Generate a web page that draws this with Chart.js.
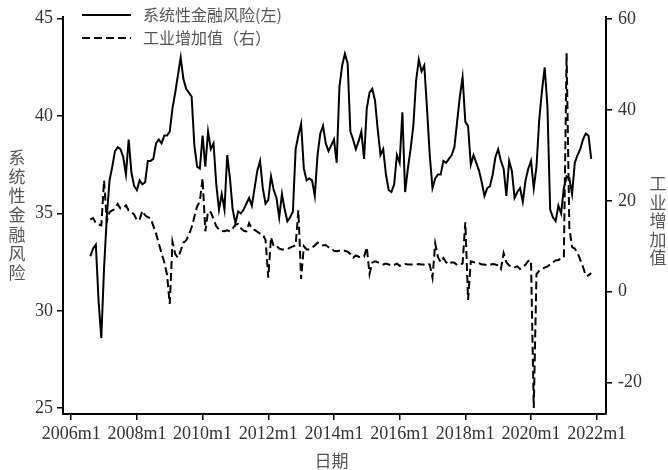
<!DOCTYPE html>
<html>
<head>
<meta charset="utf-8">
<script src="https://cdn.jsdelivr.net/npm/chart.js@4.4.1/dist/chart.umd.min.js"></script>
<style>
  html, body { margin: 0; padding: 0; background: #fff; }
  #wrap { width: 668px; height: 470px; }
</style>
</head>
<body>
<div id="wrap"><canvas id="riskChart" width="668" height="470"></canvas></div>
<script>
// monthly data, first value is 2006m8 (month index 0 = 2006m1)
const startMonth = 7;

// 系统性金融风险 (left axis)
const risk = [
  32.8, 33.2, 33.4, 30.5, 28.6,                                        // 2006
  32.2, 34.8, 36.7, 37.4, 38.2, 38.4, 38.3, 37.9, 37.0, 38.8, 37.1, 36.4, // 2007
  36.2, 36.7, 36.5, 36.6, 37.7, 37.7, 37.8, 38.6, 38.8, 38.6, 39.0, 39.0, // 2008
  39.2, 40.4, 41.2, 42.1, 43.0, 41.9, 41.4, 41.2, 41.0, 38.5, 37.4, 37.3, // 2009
  39.0, 37.4, 39.2, 38.3, 38.6, 36.5, 35.2, 36.0, 35.2, 38.0, 36.8, 35.2, // 2010
  34.5, 35.1, 35.0, 35.2, 35.5, 35.8, 35.4, 36.3, 37.2, 37.7, 36.3, 35.5, // 2011
  35.7, 36.9, 36.2, 35.8, 34.8, 36.0, 35.2, 34.6, 34.8, 35.1, 38.3, 39.0, // 2012
  39.6, 37.3, 36.7, 36.8, 36.7, 35.9, 38.0, 39.1, 39.5, 38.6, 38.2, 38.5, // 2013
  38.8, 37.6, 41.5, 42.6, 43.2, 42.7, 39.2, 38.8, 38.3, 38.7, 39.2, 37.8, // 2014
  40.4, 41.2, 41.4, 40.8, 39.3, 38.0, 38.3, 37.0, 36.2, 36.1, 36.5, 38.0, // 2015
  37.6, 40.2, 36.1, 37.3, 38.3, 39.5, 41.8, 42.9, 42.3, 42.6, 40.4, 38.0, // 2016
  36.3, 36.8, 37.0, 37.0, 37.7, 37.6, 37.8, 38.0, 38.4, 39.7, 41.0, 42.0, // 2017
  39.7, 39.5, 37.5, 38.0, 37.6, 37.2, 36.6, 35.9, 36.3, 36.4, 37.0, 37.9, // 2018
  38.3, 37.7, 37.3, 35.9, 37.7, 37.2, 35.8, 36.1, 36.3, 35.6, 36.7, 37.3, // 2019
  37.7, 36.3, 37.4, 39.8, 41.3, 42.5, 40.5, 35.2, 34.8, 34.6, 35.4, 35.0, // 2020
  36.3, 36.9, 36.8, 36.0, 37.6, 38.0, 38.3, 38.8, 39.1, 39.0, 37.8        // 2021
];

// 工业增加值 (right axis)
const industry = [
  15.9, 16.2, 15.1, 14.8, 14.6,                                        // 2006
  24.5, 15.5, 17.5, 17.9, 18.2, 19.3, 18.3, 18.5, 19.0, 17.9, 17.6, 17.0, // 2007
  15.7, 15.9, 17.8, 16.8, 16.4, 16.2, 14.5, 12.8, 10.6, 8.5, 6.5, 3.8,    // 2008
  -2.7, 11.0, 8.3, 7.5, 9.0, 10.8, 11.3, 12.5, 14.2, 16.5, 18.8, 19.9,    // 2009
  25.0, 13.3, 17.7, 17.5, 16.0, 14.4, 13.7, 13.4, 13.3, 13.5, 13.3, 13.9, // 2010
  14.8, 14.9, 14.0, 13.4, 13.3, 15.1, 13.9, 13.6, 13.2, 12.8, 12.6, 11.4, // 2011
  3.1, 12.0, 10.0, 10.1, 9.5, 9.3, 9.3, 9.4, 9.7, 10.0, 10.2, 17.9,       // 2012
  2.8, 10.0, 9.3, 9.3, 9.7, 10.2, 10.8, 10.6, 10.2, 10.3, 9.8, 9.6,       // 2013
  9.0, 8.9, 9.0, 9.0, 9.0, 8.8, 8.3, 7.5, 8.0, 7.7, 7.6, 7.7,             // 2014
  9.8, 3.9, 6.4, 6.7, 6.5, 6.2, 6.0, 6.2, 6.0, 5.8, 5.9, 6.2,             // 2015
  5.7, 5.9, 6.1, 6.0, 6.0, 6.0, 6.0, 6.1, 6.0, 6.0, 6.2, 6.0,             // 2016
  3.1, 10.6, 7.6, 6.5, 7.4, 6.5, 6.0, 6.5, 6.4, 5.9, 6.0, 6.2,            // 2017
  15.3, -1.8, 6.7, 6.5, 6.5, 6.3, 6.0, 6.0, 5.8, 5.9, 6.1, 6.0,           // 2018
  5.8, 5.0, 8.5, 6.5, 5.8, 5.5, 5.4, 5.6, 5.0, 5.4, 6.0, 6.8,             // 2019
  6.9, -25.6, 3.9, 4.6, 5.0, 5.3, 5.6, 6.0, 6.5, 6.9, 7.0, 7.3,           // 2020
  7.6, 52.5, 14.1, 9.8, 9.5, 8.6, 7.0, 5.5, 3.5, 3.6, 4.1                 // 2021
];

const xTickLabels = ["2006m1", "2008m1", "2010m1", "2012m1", "2014m1", "2016m1", "2018m1", "2020m1", "2022m1"];
const leftTicks = [25, 30, 35, 40, 45];
const rightTicks = [-20, 0, 20, 40, 60];

function monthIndex(label) {
  const parts = label.split("m");
  return (parseInt(parts[0]) - 2006) * 12 + parseInt(parts[1]) - 1;
}

const tickFont = { family: "'Liberation Serif', 'DejaVu Serif', serif", size: 18 };
const cjkFont = "'Noto Sans CJK SC', 'Noto Sans', sans-serif";
const textColor = "#333";

const axisGrid = {
  display: true,
  drawOnChartArea: false,
  drawTicks: true,
  tickLength: 6,
  color: "#000",
  lineWidth: 1.5,
};
const axisBorder = { display: true, color: "#000", width: 2 };

// titles (stacked upright characters) and legend inside the plot
const decorations = {
  id: "decorations",
  afterDraw(chart) {
    const ctx = chart.ctx;
    const area = chart.chartArea;
    ctx.save();
    ctx.fillStyle = "#555";
    ctx.textAlign = "center";
    ctx.textBaseline = "middle";
    ctx.font = "17px " + cjkFont;
    ctx.fillText("日期", (area.left + area.right) / 2 - 3, 461);

    function stack(text, x, cy, step) {
      const chars = Array.from(text);
      const y0 = cy - (step * (chars.length - 1)) / 2;
      chars.forEach((c, i) => ctx.fillText(c, x, y0 + i * step));
    }
    stack("系统性金融风险", 17, 215, 19.3);
    stack("工业增加值", 658, 221, 18.5);

    // legend
    ctx.font = "16px " + cjkFont;
    ctx.textAlign = "left";
    chart.data.datasets.forEach((ds, i) => {
      const y = 15 + i * 23;
      ctx.strokeStyle = "#000";
      ctx.lineWidth = 2;
      ctx.setLineDash(ds.borderDash || []);
      ctx.beginPath();
      ctx.moveTo(82, y);
      ctx.lineTo(131, y);
      ctx.stroke();
      ctx.setLineDash([]);
      ctx.fillText(ds.label, 143, y);
    });
    ctx.restore();
  },
};

const ctx = document.getElementById("riskChart").getContext("2d");
new Chart(ctx, {
  type: "line",
  data: {
    datasets: [
      {
        label: "系统性金融风险(左)",
        data: risk.map((v, i) => ({ x: startMonth + i, y: v })),
        yAxisID: "y",
        borderColor: "#000",
        borderWidth: 2,
        pointRadius: 0,
        tension: 0,
        fill: false,
      },
      {
        label: "工业增加值（右）",
        data: industry.map((v, i) => ({ x: startMonth + i, y: v })),
        yAxisID: "y1",
        borderColor: "#000",
        borderWidth: 2,
        borderDash: [8, 4],
        pointRadius: 0,
        tension: 0,
        fill: false,
      },
    ],
  },
  options: {
    responsive: false,
    animation: false,
    devicePixelRatio: 1,
    layout: { padding: { top: 14, left: 0, right: 0, bottom: 0 } },
    plugins: {
      legend: { display: false },
      tooltip: { enabled: false },
    },
    scales: {
      x: {
        type: "linear",
        position: "bottom",
        min: -3,
        max: 195.4,
        afterBuildTicks: (scale) => {
          scale.ticks = xTickLabels.map((l) => ({ value: monthIndex(l) }));
        },
        afterFit: (scale) => { scale.height = 56; },
        ticks: {
          autoSkip: false,
          maxRotation: 0,
          padding: 3,
          color: textColor,
          font: tickFont,
          callback: (v) => xTickLabels.find((l) => monthIndex(l) === v) || "",
        },
        grid: axisGrid,
        border: axisBorder,
      },
      y: {
        type: "linear",
        position: "left",
        min: 24.7,
        max: 45.1,
        afterBuildTicks: (scale) => {
          scale.ticks = leftTicks.map((v) => ({ value: v }));
        },
        afterFit: (scale) => { scale.width = 63; },
        ticks: { padding: 4, color: textColor, font: tickFont },
        grid: axisGrid,
        border: axisBorder,
      },
      y1: {
        type: "linear",
        position: "right",
        min: -26.9,
        max: 60.5,
        afterBuildTicks: (scale) => {
          scale.ticks = rightTicks.map((v) => ({ value: v }));
        },
        afterFit: (scale) => { scale.width = 62; },
        ticks: { padding: 6, color: textColor, font: tickFont },
        grid: axisGrid,
        border: axisBorder,
      },
    },
  },
  plugins: [decorations],
});
</script>
</body>
</html>
